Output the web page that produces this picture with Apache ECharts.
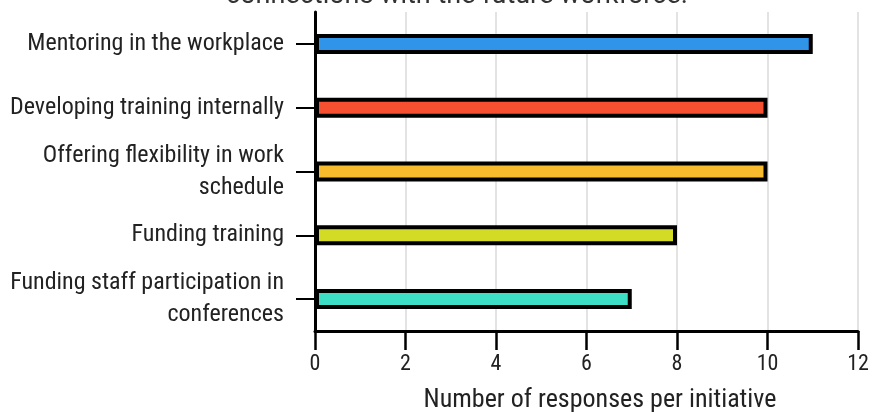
<!DOCTYPE html>
<html>
<head>
<meta charset="utf-8">
<script src="https://cdn.jsdelivr.net/npm/echarts@6/dist/echarts.min.js"></script>
<style>
html,body{margin:0;padding:0;background:#fff;}
#chart{width:882px;height:412px;}
</style>
</head>
<body>
<div id="chart"></div>
<script>
var titleText = 'connections with the future workforce.';
var categories = [
  'Mentoring in the workplace',
  'Developing training internally',
  'Offering flexibility in work schedule',
  'Funding training',
  'Funding staff participation in conferences'
];
var values = [11, 10, 10, 8, 7];
var barColors = ['#3094E9', '#F75030', '#F7BB2D', '#D4DB25', '#3EDDC5'];
var xTicks = [0, 2, 4, 6, 8, 10, 12];
var xName = 'Number of responses per initiative';

var FONT = "'Roboto Condensed', 'Liberation Sans Narrow', 'DejaVu Sans Condensed', sans-serif";
var LABEL_SIZE = 24;
var WRAP_WIDTH = 285;

var ctx = document.createElement('canvas').getContext('2d');
ctx.font = LABEL_SIZE + 'px ' + FONT;
function wrap(text) {
  var words = text.split(' ');
  var lines = [];
  var cur = '';
  words.forEach(function (w) {
    var test = cur ? cur + ' ' + w : w;
    if (cur && ctx.measureText(test).width > WRAP_WIDTH) {
      lines.push(cur);
      cur = w;
    } else {
      cur = test;
    }
  });
  if (cur) lines.push(cur);
  return lines.join('\n');
}

var chart = echarts.init(document.getElementById('chart'), null, {renderer: 'canvas'});
chart.setOption({
  animation: false,
  backgroundColor: '#fff',
  title: {
    text: titleText,
    left: 221,
    top: -22,
    textStyle: {fontFamily: 'Roboto', fontSize: 27, fontWeight: 'normal', color: '#333'}
  },
  grid: {left: 315, right: 24, top: 12, bottom: 81, containLabel: false, outerBoundsMode: 'none'},
  xAxis: {
    type: 'value',
    min: xTicks[0],
    max: xTicks[xTicks.length - 1],
    interval: xTicks[1] - xTicks[0],
    name: xName,
    nameLocation: 'middle',
    nameGap: 56,
    nameTextStyle: {fontFamily: FONT, fontSize: 26, color: '#222', padding: [0, 0, 0, 27]},
    axisLine: {show: true, lineStyle: {color: '#000', width: 3}},
    axisTick: {show: true, length: 19, lineStyle: {color: '#000', width: 2.5}},
    axisLabel: {fontFamily: FONT, fontSize: 22, color: '#222', margin: 22},
    splitLine: {show: true, lineStyle: {color: '#e3e3e3', width: 2}}
  },
  yAxis: {
    type: 'category',
    data: categories,
    inverse: true,
    axisLine: {show: true, lineStyle: {color: '#000', width: 3}},
    axisTick: {show: true, alignWithLabel: true, length: 19, lineStyle: {color: '#000', width: 2}},
    axisLabel: {
      fontFamily: FONT, fontSize: LABEL_SIZE, color: '#222', margin: 31,
      lineHeight: 32, align: 'right',
      formatter: function (v) { return wrap(v); }
    },
    splitLine: {show: false}
  },
  series: [{
    type: 'bar',
    barWidth: 20,
    data: values.map(function (v, i) {
      return {value: v, itemStyle: {color: barColors[i], borderColor: '#000', borderWidth: 4}};
    })
  }]
});
</script>
</body>
</html>
